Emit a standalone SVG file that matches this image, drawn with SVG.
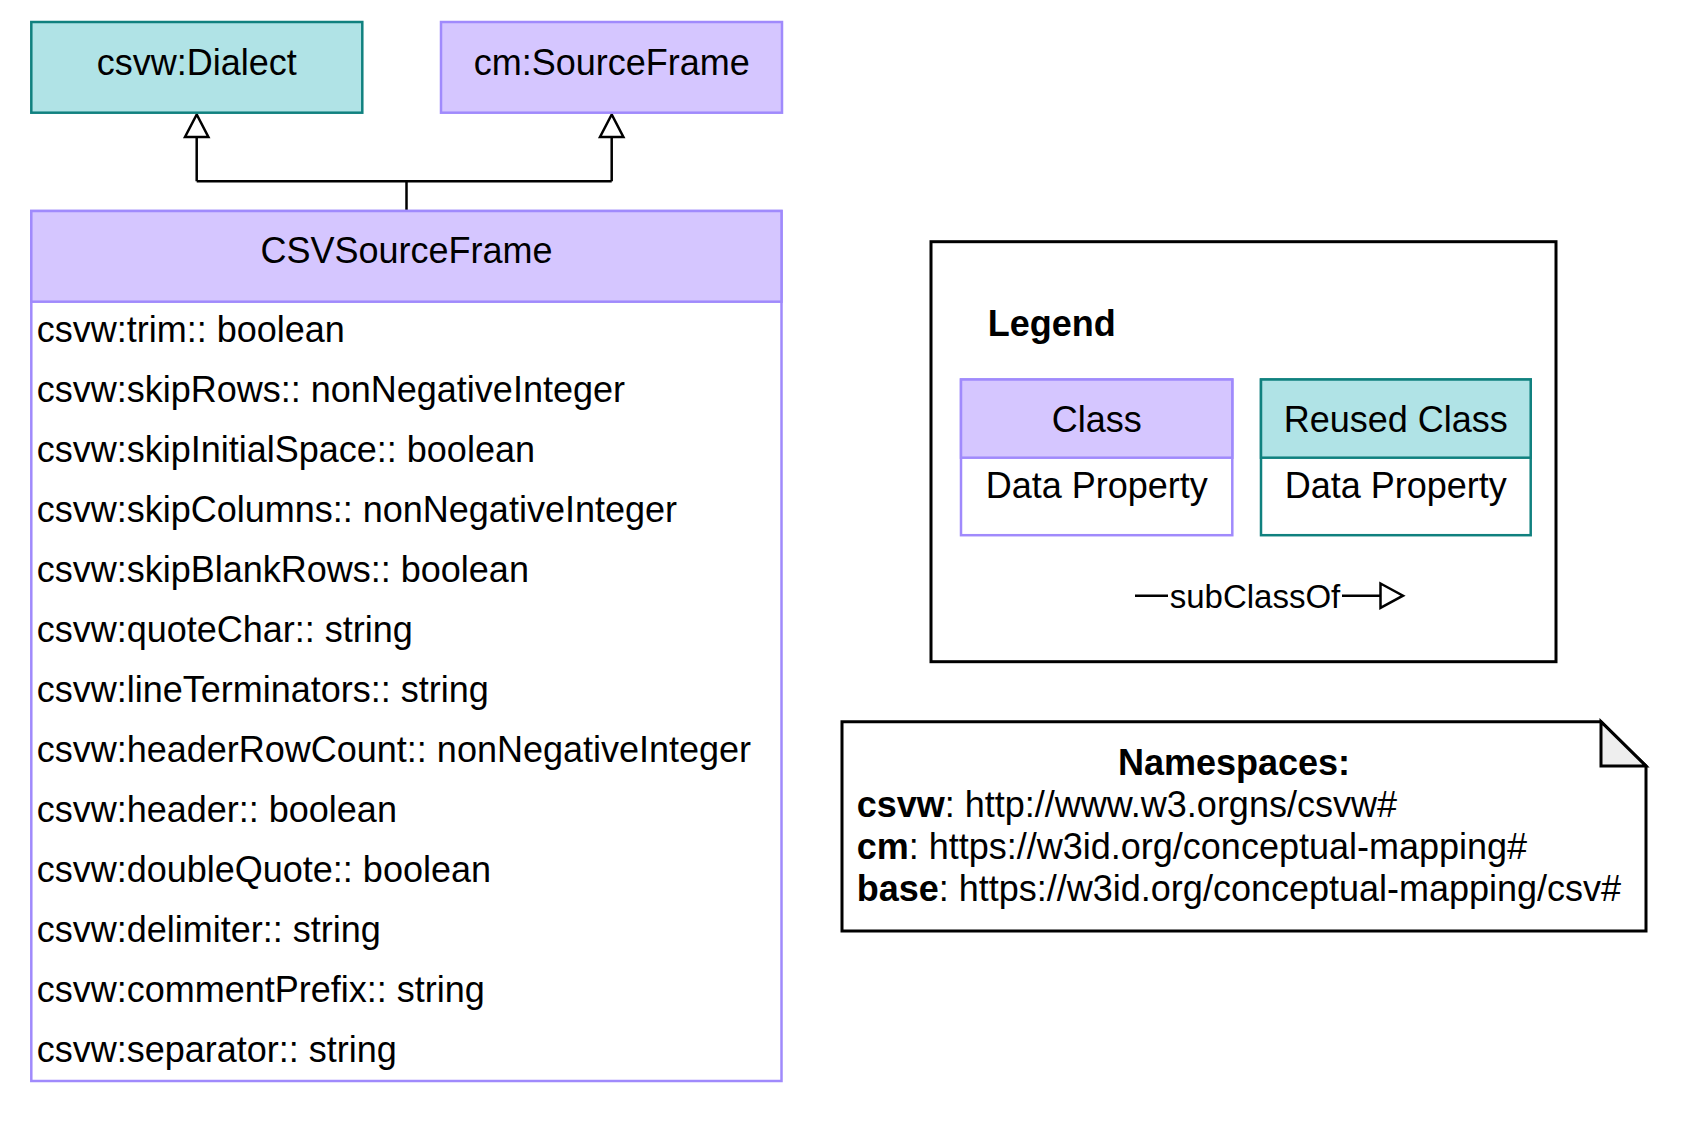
<svg xmlns="http://www.w3.org/2000/svg" width="1683" height="1121" viewBox="0 0 1683 1121">
<style>
text{font-family:"Liberation Sans",Arial,Helvetica,sans-serif;font-size:36px;fill:#000}
.b{font-weight:bold}
.c{text-anchor:middle}
.cls{fill:#D5C6FF;stroke:#A08AFC;stroke-width:2.5}
.clsb{fill:#FFFFFF;stroke:#A08AFC;stroke-width:2.5}
.reu{fill:#B0E3E6;stroke:#10817F;stroke-width:2.5}
.reub{fill:#FFFFFF;stroke:#10817F;stroke-width:2.5}
.ln{fill:none;stroke:#000;stroke-width:2.5}
.ah{fill:#FFFFFF;stroke:#000;stroke-width:2.5;stroke-linejoin:miter}
</style>
<rect width="1683" height="1121" fill="#FFFFFF"/>
<g id="connectors">
<path class="ln" d="M406.5 211 V181.3 M196.7 181.3 H611.7 M196.7 181.3 V137 M611.7 181.3 V137"/>
<polygon class="ah" points="196.7,114.5 185,137 208.4,137"/>
<polygon class="ah" points="611.7,114.5 600,137 623.4,137"/>
</g>
<g id="node-dialect">
<rect class="reu" x="31.3" y="22" width="331" height="90.7"/>
<text class="c" x="196.7" y="75">csvw:Dialect</text>
</g>
<g id="node-sourceframe">
<rect class="cls" x="441" y="22" width="341" height="90.7"/>
<text class="c" x="611.7" y="75">cm:SourceFrame</text>
</g>
<g id="node-csvsourceframe">
<rect class="clsb" x="31.3" y="211" width="750.2" height="870"/>
<rect class="cls" x="31.3" y="211" width="750.2" height="90.7"/>
<text class="c" x="406.5" y="263.3">CSVSourceFrame</text>
<text x="36.7" y="341.7">csvw:trim:: boolean</text>
<text x="36.7" y="401.7">csvw:skipRows:: nonNegativeInteger</text>
<text x="36.7" y="461.7">csvw:skipInitialSpace:: boolean</text>
<text x="36.7" y="521.7">csvw:skipColumns:: nonNegativeInteger</text>
<text x="36.7" y="581.7">csvw:skipBlankRows:: boolean</text>
<text x="36.7" y="641.7">csvw:quoteChar:: string</text>
<text x="36.7" y="701.7">csvw:lineTerminators:: string</text>
<text x="36.7" y="761.7">csvw:headerRowCount:: nonNegativeInteger</text>
<text x="36.7" y="821.7">csvw:header:: boolean</text>
<text x="36.7" y="881.7">csvw:doubleQuote:: boolean</text>
<text x="36.7" y="941.7">csvw:delimiter:: string</text>
<text x="36.7" y="1001.7">csvw:commentPrefix:: string</text>
<text x="36.7" y="1061.7">csvw:separator:: string</text>
</g>
<g id="legend">
<rect x="931" y="241.7" width="625" height="420" fill="#FFFFFF" stroke="#000" stroke-width="3"/>
<text class="b" x="987.7" y="336">Legend</text>
<g id="legend-class">
<rect class="clsb" x="961" y="379.5" width="271.3" height="155.7"/>
<rect class="cls" x="961" y="379.5" width="271.3" height="78.2"/>
<text class="c" x="1096.7" y="431.7">Class</text>
<text class="c" x="1096.7" y="497.7">Data Property</text>
</g>
<g id="legend-reused">
<rect class="reub" x="1261" y="379.5" width="269.7" height="155.7"/>
<rect class="reu" x="1261" y="379.5" width="269.7" height="78.2"/>
<text class="c" x="1395.8" y="431.7">Reused Class</text>
<text class="c" x="1395.8" y="497.7">Data Property</text>
</g>
<g id="legend-edge">
<line class="ln" x1="1135" y1="595.7" x2="1381" y2="595.7"/>
<rect x="1168" y="578" width="174" height="36" fill="#FFFFFF"/>
<text class="c" x="1255" y="607.5" style="font-size:33px">subClassOf</text>
<polygon class="ah" points="1380.5,583.5 1403,595.7 1380.5,607.9"/>
</g>
</g>
<g id="namespaces">
<path d="M842 721.7 H1601 L1646 766 V931 H842 Z" fill="#FFFFFF" stroke="#000" stroke-width="3" stroke-linejoin="miter"/>
<path d="M1601 721.7 V766 H1646 Z" fill="#EEEEEE" stroke="#000" stroke-width="3" stroke-linejoin="miter"/>
<text class="b c" x="1234" y="775">Namespaces:</text>
<text x="856.7" y="817"><tspan class="b">csvw</tspan>: http://www.w3.orgns/csvw#</text>
<text x="856.7" y="859"><tspan class="b">cm</tspan>: https://w3id.org/conceptual-mapping#</text>
<text x="856.7" y="901"><tspan class="b">base</tspan>: https://w3id.org/conceptual-mapping/csv#</text>
</g>
</svg>
